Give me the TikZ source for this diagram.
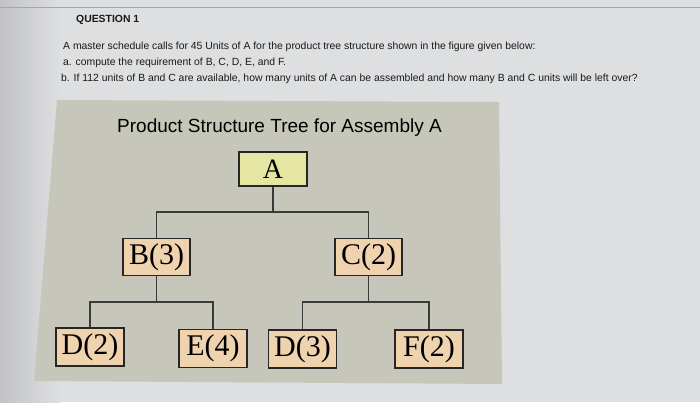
\documentclass[tikz,border=0pt]{standalone}
\usepackage{fontspec}
\setmainfont{Liberation Sans}
\newfontfamily\boxfont{Liberation Serif}
\definecolor{pagebg}{HTML}{DEDFE1}
\definecolor{panelbg}{HTML}{C6C7BA}
\definecolor{afill}{HTML}{E4E6A2}
\definecolor{kidfill}{HTML}{EFD2AE}
\definecolor{inkc}{HTML}{262626}
\definecolor{linec}{HTML}{3A3A3A}
\tikzset{
  treebox/.style={draw=inkc, line width=1.5pt, inner sep=0pt, font=\boxfont\fontsize{30}{31}\selectfont, text=black},
  topbox/.style={treebox, fill=afill, minimum width=68pt, minimum height=34pt, font=\boxfont\fontsize{28}{29}\selectfont},
  kidbox/.style={treebox, fill=kidfill, minimum width=67pt, minimum height=37pt},
  leafbox/.style={treebox, fill=kidfill, minimum width=68pt, minimum height=38pt},
  link/.style={draw=linec, line width=1.3pt},
  qtext/.style={anchor=west, inner sep=0pt, font=\fontsize{10.4}{12}\selectfont, text=black!90},
}
\begin{document}
\begin{tikzpicture}[x=1pt,y=-1pt]
\useasboundingbox (0,0) rectangle (700,402);
\fill[pagebg] (0,0) rectangle (700,402);
\fill[left color=gray!30!pagebg, right color=pagebg] (0,0) rectangle (60,402);
\draw[gray!70, line width=0.8pt] (0,7) -- (700,7);
% question text
\node[anchor=west, inner sep=0pt, font=\bfseries\fontsize{10.4}{12}\selectfont, text=black!90] (q) at (76,20) {QUESTION 1};
\node[qtext] (l1) at (63,47) {A master schedule calls for 45 Units of A for the product tree structure shown in the figure given below:};
\node[qtext] (l2) at (63,63) {a. compute the requirement of B, C, D, E, and F.};
\node[qtext] (l3) at (61,79) {b. If 112 units of B and C are available, how many units of A can be assembled and how many B and C units will be left over?};
% panel
\fill[panelbg] (57,100) -- (499,102) -- (502,384) -- (34,381) -- cycle;
\node[inner sep=0pt, font=\fontsize{19}{22}\selectfont, text=black] (title) at (279.5,128) {Product Structure Tree for Assembly A};
% boxes
\node[topbox] (A) at (273,169) {A};
\node[kidbox] (B) at (156.5,257) {B(3)};
\node[kidbox] (C) at (368.5,257) {C(2)};
\node[leafbox] (D2) at (90,347) {D(2)};
\node[leafbox] (E4) at (213,348.5) {E(4)};
\node[leafbox] (D3) at (302.5,349) {D(3)};
\node[leafbox] (F2) at (429,349) {F(2)};
% connectors
\coordinate (jA) at (273,212);
\coordinate (jB) at (156.5,302);
\coordinate (jC) at (368.5,302);
\draw[link] (A.south) -- (jA);
\draw[link] (B.north) |- (jA) -| (C.north);
\draw[link] (B.south) -- (jB);
\draw[link] (D2.north) |- (jB) -| (E4.north);
\draw[link] (C.south) -- (jC);
\draw[link] (D3.north) |- (jC) -| (F2.north);
\end{tikzpicture}
\end{document}
